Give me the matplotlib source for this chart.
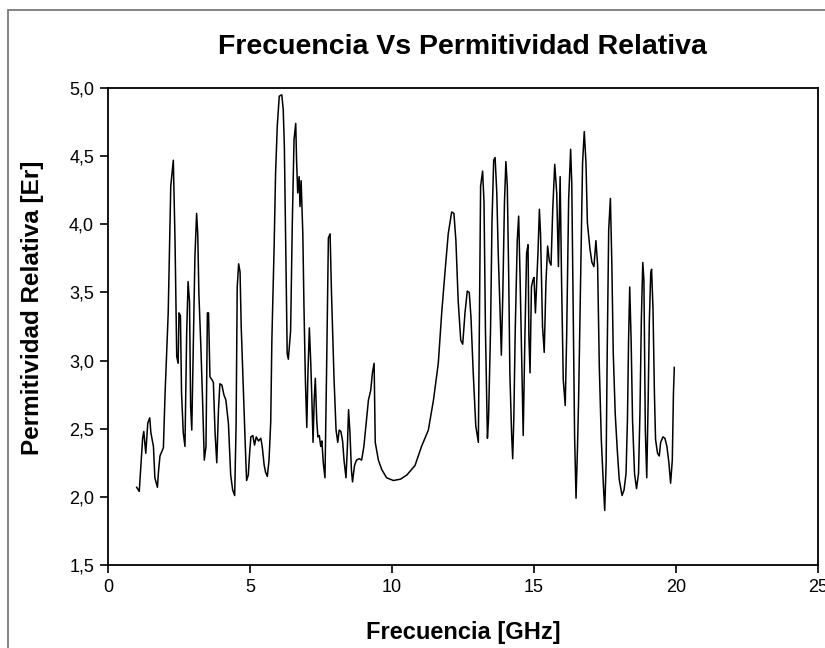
import matplotlib
matplotlib.use("Agg")
import matplotlib.pyplot as plt
from matplotlib.patches import Rectangle
from matplotlib.ticker import FuncFormatter

plt.rcParams['font.family'] = ['Liberation Sans', 'DejaVu Sans']

freq = [1.01, 1.10, 1.15, 1.22, 1.26, 1.33, 1.40, 1.47, 1.51, 1.60, 1.65, 1.74, 1.78, 1.83, 1.95,
        2.01, 2.12, 2.21, 2.30, 2.36, 2.42, 2.47, 2.50, 2.55, 2.59, 2.65, 2.71, 2.77, 2.82, 2.87,
        2.91, 2.95, 3.00, 3.06, 3.12, 3.16, 3.20, 3.27, 3.33, 3.39, 3.45, 3.50, 3.54, 3.59, 3.66,
        3.71, 3.77, 3.83, 3.89, 3.94, 4.01, 4.08, 4.15, 4.24, 4.32, 4.39, 4.46, 4.51, 4.55, 4.60,
        4.65, 4.69, 4.76, 4.83, 4.88, 4.94, 4.98, 5.03, 5.10, 5.16, 5.22, 5.30, 5.38, 5.43, 5.50,
        5.55, 5.61, 5.67, 5.73, 5.77, 5.85, 5.90, 5.96, 6.03, 6.12, 6.17, 6.21, 6.27, 6.31, 6.35,
        6.43, 6.49, 6.55, 6.61, 6.64, 6.68, 6.73, 6.76, 6.80, 6.86, 6.90, 6.95, 7.00, 7.04, 7.09,
        7.14, 7.18, 7.22, 7.26, 7.30, 7.35, 7.39, 7.44, 7.49, 7.53, 7.58, 7.64, 7.70, 7.76, 7.82,
        7.87, 7.96, 8.03, 8.09, 8.14, 8.20, 8.26, 8.31, 8.38, 8.43, 8.47, 8.52, 8.57, 8.61, 8.68,
        8.75, 8.85, 8.93, 9.01, 9.08, 9.17, 9.25, 9.31, 9.37, 9.41, 9.52, 9.64, 9.81, 10.05, 10.30,
        10.52, 10.81, 11.04, 11.28, 11.46, 11.63, 11.75, 11.87, 11.98, 12.10, 12.18, 12.25, 12.33,
        12.42, 12.49, 12.57, 12.65, 12.72, 12.78, 12.86, 12.95, 13.04, 13.12, 13.19, 13.24, 13.29,
        13.36, 13.40, 13.47, 13.52, 13.58, 13.63, 13.69, 13.74, 13.80, 13.85, 13.90, 13.96, 14.01,
        14.06, 14.11, 14.15, 14.21, 14.25, 14.29, 14.34, 14.41, 14.46, 14.51, 14.57, 14.62, 14.68,
        14.74, 14.79, 14.82, 14.86, 14.91, 14.96, 15.00, 15.05, 15.09, 15.14, 15.19, 15.23, 15.30,
        15.36, 15.42, 15.48, 15.54, 15.60, 15.66, 15.73, 15.80, 15.86, 15.92, 15.97, 16.03, 16.10,
        16.15, 16.22, 16.29, 16.33, 16.38, 16.43, 16.48, 16.53, 16.57, 16.64, 16.71, 16.77, 16.83,
        16.88, 16.97, 17.04, 17.11, 17.18, 17.24, 17.30, 17.37, 17.44, 17.49, 17.54, 17.58, 17.63,
        17.69, 17.74, 17.79, 17.86, 17.93, 18.00, 18.10, 18.17, 18.24, 18.29, 18.33, 18.37, 18.42,
        18.47, 18.54, 18.61, 18.68, 18.73, 18.78, 18.83, 18.87, 18.92, 18.97, 19.02, 19.06, 19.11,
        19.14, 19.19, 19.24, 19.28, 19.35, 19.41, 19.46, 19.54, 19.61, 19.68, 19.75, 19.81, 19.87,
        19.91, 19.94]

permitividad = [2.07, 2.04, 2.20, 2.43, 2.48, 2.32, 2.54, 2.58, 2.47, 2.37, 2.14, 2.07, 2.19, 2.30, 2.36,
                2.76, 3.35, 4.28, 4.47, 3.88, 3.03, 2.98, 3.35, 3.33, 2.76, 2.47, 2.37, 3.20, 3.58, 3.43,
                2.66, 2.49, 3.08, 3.76, 4.08, 3.93, 3.49, 3.10, 2.71, 2.27, 2.37, 3.35, 3.35, 2.88, 2.86,
                2.84, 2.47, 2.25, 2.64, 2.83, 2.82, 2.75, 2.71, 2.54, 2.16, 2.05, 2.01, 2.52, 3.54, 3.71,
                3.65, 3.25, 2.82, 2.40, 2.12, 2.16, 2.30, 2.44, 2.45, 2.38, 2.44, 2.41, 2.43, 2.37, 2.23,
                2.18, 2.15, 2.27, 2.55, 3.15, 3.84, 4.37, 4.72, 4.94, 4.95, 4.84, 4.57, 3.69, 3.05, 3.01,
                3.22, 4.01, 4.62, 4.74, 4.47, 4.23, 4.35, 4.13, 4.32, 3.93, 3.40, 2.86, 2.51, 2.91, 3.24,
                2.98, 2.71, 2.40, 2.71, 2.87, 2.56, 2.44, 2.45, 2.37, 2.41, 2.25, 2.14, 2.98, 3.90, 3.93,
                3.49, 2.86, 2.49, 2.40, 2.49, 2.48, 2.41, 2.27, 2.14, 2.37, 2.64, 2.47, 2.20, 2.11, 2.23,
                2.27, 2.28, 2.27, 2.37, 2.52, 2.71, 2.78, 2.91, 2.98, 2.40, 2.27, 2.20, 2.14, 2.12, 2.13,
                2.16, 2.23, 2.37, 2.49, 2.71, 2.98, 3.35, 3.66, 3.93, 4.09, 4.08, 3.88, 3.44,
                3.15, 3.12, 3.35, 3.51, 3.50, 3.32, 2.91, 2.52, 2.40, 4.28, 4.39, 4.16, 3.23,
                2.43, 2.58, 3.23, 4.01, 4.47, 4.49, 4.23, 3.79, 3.40, 3.04, 3.47, 4.16, 4.46,
                4.28, 3.61, 2.91, 2.47, 2.28, 2.58, 3.23, 3.88, 4.06, 3.61, 2.98, 2.45, 3.18,
                3.79, 3.85, 3.18, 2.91, 3.54, 3.59, 3.61, 3.35, 3.54, 3.79, 4.11, 3.93, 3.25,
                3.06, 3.57, 3.84, 3.73, 3.70, 4.11, 4.44, 4.23, 3.69, 4.35, 3.59, 2.86, 2.67,
                3.18, 4.18, 4.55, 4.30, 3.35, 2.44, 1.99, 2.35, 2.71, 3.59, 4.45, 4.68, 4.45,
                4.01, 3.82, 3.72, 3.69, 3.88, 3.70, 2.95, 2.42, 2.10, 1.90, 2.25, 3.10, 3.96,
                4.19, 3.72, 3.06, 2.61, 2.35, 2.13, 2.01, 2.05, 2.17, 2.56, 3.15, 3.54, 3.15,
                2.56, 2.17, 2.06, 2.17, 2.61, 3.30, 3.72, 3.59, 2.49, 2.14, 2.71, 3.28, 3.64,
                3.67, 3.38, 2.76, 2.42, 2.32, 2.30, 2.40, 2.44, 2.43, 2.37, 2.25, 2.10, 2.27,
                2.76, 2.95]

x_ticks = [0, 5, 10, 15, 20, 25]
y_ticks = [1.5, 2.0, 2.5, 3.0, 3.5, 4.0, 4.5, 5.0]

W, H = 825, 648
fig = plt.figure(figsize=(W / 100, H / 100), dpi=100)
fig.patch.set_facecolor('white')

# outer frame
fig.patches.append(Rectangle((8 / W, -0.05), 1.0, 1 - 10 / H + 0.05, transform=fig.transFigure,
                             fill=False, edgecolor='#7a7a7a', linewidth=1.3))

ax = fig.add_axes([108 / W, 1 - 565 / H, (818 - 108) / W, (565 - 88) / H])
ax.plot(freq, permitividad, color='black', linewidth=1.1)

ax.set_xlim(0, 25)
ax.set_ylim(1.5, 5.0)
ax.set_xticks(x_ticks)
ax.set_yticks(y_ticks)
ax.xaxis.set_major_formatter(FuncFormatter(lambda v, p: f"{int(v)}"))
ax.yaxis.set_major_formatter(FuncFormatter(lambda v, p: f"{v:.1f}".replace('.', ',')))
ax.tick_params(direction='out', length=6, width=1.2, labelsize=13, colors='black', pad=4)
for s in ax.spines.values():
    s.set_linewidth(1.3)
    s.set_color('black')

fig.text(462 / W, 1 - 47 / H, "Frecuencia Vs Permitividad Relativa", ha='center', va='center',
         fontsize=20.5, fontweight='bold')
fig.text(463 / W, 1 - 632 / H, "Frecuencia [GHz]", ha='center', va='center',
         fontsize=17, fontweight='bold')
fig.text(33 / W, 1 - 308 / H, "Permitividad Relativa [Er]", ha='center', va='center',
         rotation=90, fontsize=17.5, fontweight='bold')

fig.savefig("out.png", dpi=100)
